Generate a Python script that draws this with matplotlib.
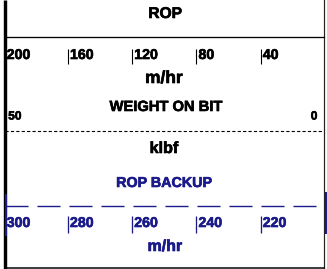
import matplotlib
matplotlib.use("Agg")
import matplotlib.pyplot as plt
from matplotlib import font_manager
import matplotlib.patheffects as pe

# ---- data ----
rop_title = "ROP"
rop_unit = "m/hr"
rop_range = (200, 0)
rop_ticks = [200, 160, 120, 80, 40]

wob_title = "WEIGHT ON BIT"
wob_unit = "klbf"
wob_range = (50, 0)
wob_labels = [50, 0]

bak_title = "ROP BACKUP"
bak_unit = "m/hr"
bak_range = (300, 200)
bak_ticks = [300, 280, 260, 240, 220]

W, H = 327, 269
BLACK = "#000000"
BLUE = "#1a1a8a"
PX = 0.72  # points per pixel at dpi 100

plt.rcParams["lines.scale_dashes"] = False

names = {f.name for f in font_manager.fontManager.ttflist}
HAS_NARROW = "Liberation Sans Narrow" in names
NARROW = "Liberation Sans Narrow" if HAS_NARROW else "Liberation Sans"
SANS = "Liberation Sans"
TICK_FS = 11 if HAS_NARROW else 10.2
SMALL_FS = 8.8 if HAS_NARROW else 8.6


def heavy(color):
    return [pe.withStroke(linewidth=0.45, foreground=color)]


fig = plt.figure(figsize=(W / 100, H / 100), dpi=100)
frame = fig.add_axes([0, 0, 1, 1])
frame.set_xlim(0, W)
frame.set_ylim(H, 0)
frame.axis("off")

# borders
frame.plot([5, 5], [0, H], color=BLACK, lw=3.4 * PX, solid_capstyle="butt")
frame.plot([323.5, 323.5], [0, H], color="#222222", lw=1.2 * PX)
frame.plot([5, 323.5], [36.5, 36.5], color=BLACK, lw=1.3 * PX)
frame.plot([5, 323.5], [131, 131], color=BLACK, lw=1.1 * PX,
           dashes=(3.2 * PX, 2.2 * PX))
frame.plot([5, 323.5], [267.5, 267.5], color=BLACK, lw=1.5 * PX)
# backup blue markers
frame.plot([5.5, 5.5], [195, 235], color=BLUE, lw=2.0 * PX)
frame.plot([326, 326], [193, 233], color=BLUE, lw=2.0 * PX)
frame.plot([5, 320], [205.5, 205.5], color=BLUE, lw=1.4 * PX,
           dashes=(23 * PX, 9 * PX))

# scale axes
x0, x1 = 3.7 / W, 325 / W


def scale_axes(rng):
    ax = fig.add_axes([x0, 0, x1 - x0, 1])
    ax.set_xlim(*rng)
    ax.set_ylim(H, 0)
    ax.axis("off")
    ax.patch.set_alpha(0)
    return ax


def tick_labels(ax, ticks, y, color, fs):
    for i, t in enumerate(ticks):
        off = 3.0 if i == 0 else 2.0
        ax.annotate(str(t), xy=(t, y), xytext=(off * PX, 0),
                    textcoords="offset points", ha="left", va="center",
                    fontsize=fs, fontweight="bold", family=NARROW, color=color,
                    path_effects=heavy(color))


def title(x, y, s, fs, color):
    frame.text(x, y, s, ha="center", va="center", fontsize=fs,
               fontweight="bold", family=SANS, color=color,
               path_effects=heavy(color))


# ROP
ax_rop = scale_axes(rop_range)
title(165, 13.5, rop_title, 11.2, BLACK)
ax_rop.vlines(rop_ticks[1:], 49, 64, color=BLACK, lw=1.1 * PX)
tick_labels(ax_rop, rop_ticks, 55, BLACK, TICK_FS)
title(164, 78.5, rop_unit, 12.5, BLACK)

# WOB
ax_wob = scale_axes(wob_range)
title(166, 107, wob_title, 10.6, BLACK)
ax_wob.annotate(str(wob_labels[0]), xy=(wob_labels[0], 116.5), xytext=(4.5 * PX, 0),
                textcoords="offset points", ha="left", va="center",
                fontsize=SMALL_FS, fontweight="bold", family=NARROW, color=BLACK,
                path_effects=heavy(BLACK))
ax_wob.annotate(str(wob_labels[1]), xy=(wob_labels[1], 116.5), xytext=(-7.5 * PX, 0),
                textcoords="offset points", ha="right", va="center",
                fontsize=SMALL_FS, fontweight="bold", family=NARROW, color=BLACK,
                path_effects=heavy(BLACK))
title(164, 148.5, wob_unit, 11.6, BLACK)

# ROP backup
ax_bak = scale_axes(bak_range)
title(164, 183, bak_title, 10.3, BLUE)
ax_bak.vlines(bak_ticks[1:], 216, 233, color=BLUE, lw=1.3 * PX)
tick_labels(ax_bak, bak_ticks, 223, BLUE, TICK_FS)
title(165, 246.5, bak_unit, 11.5, BLUE)

fig.savefig("out.png", dpi=100)
